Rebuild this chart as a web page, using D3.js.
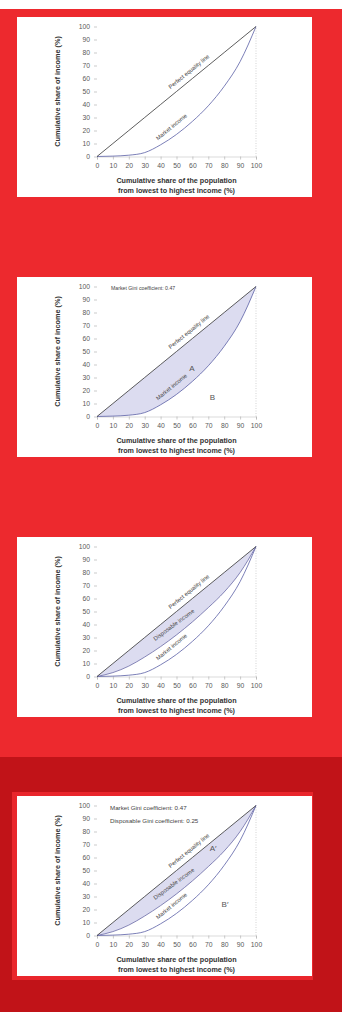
<!DOCTYPE html>
<html>
<head>
<meta charset="utf-8">
<script src="https://cdn.jsdelivr.net/npm/d3@7"></script>
<style>
  html, body { margin: 0; padding: 0; background: #fff; }
  svg { display: block; }
  text { font-family: "Liberation Sans", Arial, sans-serif; }
</style>
</head>
<body>
<script>
// ---------------- DATA ----------------
const population = [0, 10, 20, 30, 40, 50, 60, 70, 80, 90, 100];
const perfectEquality = [0, 10, 20, 30, 40, 50, 60, 70, 80, 90, 100];
const marketIncome = [0, 0.3, 1, 3, 9, 17, 27, 39, 54, 73, 100];
const disposableIncome = [0, 3, 8, 15, 23, 32, 42, 53, 65, 80, 100];
const xTicks = [0, 10, 20, 30, 40, 50, 60, 70, 80, 90, 100];
const yTicks = [0, 10, 20, 30, 40, 50, 60, 70, 80, 90, 100];
const curveNames = ["Perfect equality line", "Market income", "Disposable income"];
const giniNotes = ["Market Gini coefficient: 0.47", "Disposable Gini coefficient: 0.25"];
const areaLetters = ["A", "B", "A\u2032", "B\u2032"];
const xTitle = ["Cumulative share of the population", "from lowest to highest income (%)"];
const yTitle = "Cumulative share of income (%)";

// ---------------- LAYOUT ----------------
const W = 342, H = 1012;
const svg = d3.select("body").append("svg").attr("width", W).attr("height", H);

svg.append("rect").attr("x", 0).attr("y", 0).attr("width", W).attr("height", 9).attr("fill", "#ffffff");
svg.append("rect").attr("x", 0).attr("y", 9).attr("width", W).attr("height", 748).attr("fill", "#ed292e");
svg.append("rect").attr("x", 0).attr("y", 757).attr("width", W).attr("height", H - 757).attr("fill", "#c11318");
// highlighted border of last panel
svg.append("rect").attr("x", 12).attr("y", 792).attr("width", 301).attr("height", 188).attr("fill", "#e9262c");

const panels = [
  { top: 17,  shade: null,         curves: ["market"],               gini: 0, letters: [] },
  { top: 277, shade: "market",     curves: ["market"],               gini: 1, letters: [0, 1] },
  { top: 537, shade: "disposable", curves: ["market", "disposable"], gini: 0, letters: [] },
  { top: 796, shade: "disposable", curves: ["market", "disposable"], gini: 2, letters: [2, 3] }
];

const seriesFor = { market: marketIncome, disposable: disposableIncome };

panels.forEach((p, pi) => {
  const g = svg.append("g");
  const px = 17, pw = 295, ph = 180;
  g.append("rect").attr("x", px).attr("y", p.top).attr("width", pw).attr("height", ph).attr("fill", "#ffffff");

  const x = d3.scaleLinear().domain([0, 100]).range([97, 256]);
  const y = d3.scaleLinear().domain([0, 100]).range([p.top + 139.5, p.top + 9.5]);

  const line = (vals) => d3.line()
    .x((d, i) => x(population[i]))
    .y(d => y(d))
    .curve(d3.curveMonotoneX)(vals);

  // shading
  if (p.shade) {
    const lower = seriesFor[p.shade];
    const area = d3.area()
      .x((d, i) => x(population[i]))
      .y0((d, i) => y(lower[i]))
      .y1(d => y(d))
      .curve(d3.curveMonotoneX);
    g.append("path").attr("d", area(perfectEquality)).attr("fill", "#dcdcf0");
  }

  // dotted right border at x = 100
  g.append("line").attr("x1", x(100)).attr("x2", x(100)).attr("y1", y(0)).attr("y2", y(100))
    .attr("stroke", "#b5b5b5").attr("stroke-width", 0.6).attr("stroke-dasharray", "1,1.5");

  // axes
  const xAxis = d3.axisBottom(x).tickValues(xTicks).tickSize(3).tickPadding(4);
  const yAxis = d3.axisLeft(y).tickValues(yTicks).tickSize(3).tickPadding(4);
  const gx = g.append("g").attr("transform", `translate(0,${y(0)})`).call(xAxis);
  const gy = g.append("g").attr("transform", `translate(${x(0)},0)`).call(yAxis);
  [gx, gy].forEach(a => {
    a.select(".domain").attr("stroke", "#c4c4c4").attr("stroke-width", 0.6);
    a.selectAll(".tick line").attr("stroke", "#a8a8a8").attr("stroke-width", 0.6);
    a.selectAll(".tick text").attr("fill", "#5a5a5a").attr("font-size", 6.8)
      .attr("font-family", "'Liberation Sans', Arial, sans-serif");
  });
  gy.select(".domain").attr("stroke", "none");

  // curves
  p.curves.forEach(c => {
    g.append("path").attr("d", line(seriesFor[c])).attr("fill", "none")
      .attr("stroke", c === "market" ? "#5b5fa6" : "#6a6aa6").attr("stroke-width", 0.8);
  });
  g.append("path").attr("d", line(perfectEquality)).attr("fill", "none")
    .attr("stroke", "#333").attr("stroke-width", 0.8);

  // curve labels
  const slopeAngle = (vals, a, b) => {
    const ia = population.indexOf(a), ib = population.indexOf(b);
    return Math.atan2(y(vals[ia]) - y(vals[ib]), x(b) - x(a)) * 180 / Math.PI;
  };
  const addLabel = (txt, dx, dy, ang) => {
    g.append("text").attr("transform", `translate(${x(dx)},${y(dy)}) rotate(${-ang})`)
      .attr("text-anchor", "middle").attr("dominant-baseline", "middle")
      .attr("font-size", 5.8).attr("fill", "#444").text(txt);
  };
  addLabel(curveNames[0], 58, 65, slopeAngle(perfectEquality, 0, 100));
  addLabel(curveNames[1], 47, 22.5, slopeAngle(marketIncome, 40, 60) + 3);
  if (p.curves.includes("disposable")) {
    addLabel(curveNames[2], 48.5, 39.5, slopeAngle(disposableIncome, 30, 60));
  }

  // gini notes
  if (p.gini === 1) {
    g.append("text").attr("x", 111).attr("y", p.top + 12).attr("dominant-baseline", "middle")
      .attr("font-size", 5.2).attr("fill", "#444").text(giniNotes[0]);
  } else if (p.gini === 2) {
    g.append("text").attr("x", 110).attr("y", p.top + 12.5).attr("dominant-baseline", "middle")
      .attr("font-size", 6.2).attr("fill", "#444").text(giniNotes[0]);
    g.append("text").attr("x", 110).attr("y", p.top + 25).attr("dominant-baseline", "middle")
      .attr("font-size", 6.2).attr("fill", "#444").text(giniNotes[1]);
  }

  // area letters
  const letterPos = [[59.7, 36.5], [72.6, 14.5], [73, 67], [80.5, 23.7]];
  p.letters.forEach(li => {
    g.append("text").attr("x", x(letterPos[li][0])).attr("y", y(letterPos[li][1]))
      .attr("text-anchor", "middle").attr("dominant-baseline", "middle")
      .attr("font-size", 8).attr("fill", "#555").text(areaLetters[li]);
  });

  // titles
  const cx = (x(0) + x(100)) / 2;
  g.append("text").attr("x", cx).attr("y", p.top + 164).attr("text-anchor", "middle")
    .attr("dominant-baseline", "middle").attr("font-size", 7.2).attr("font-weight", "bold")
    .attr("fill", "#333").text(xTitle[0]);
  g.append("text").attr("x", cx).attr("y", p.top + 174).attr("text-anchor", "middle")
    .attr("dominant-baseline", "middle").attr("font-size", 7.2).attr("font-weight", "bold")
    .attr("fill", "#333").text(xTitle[1]);
  const cy = (y(0) + y(100)) / 2;
  g.append("text").attr("transform", `translate(58,${cy}) rotate(-90)`).attr("text-anchor", "middle")
    .attr("dominant-baseline", "middle").attr("font-size", 7.3).attr("font-weight", "bold")
    .attr("fill", "#333").text(yTitle);
});
</script>
</body>
</html>
